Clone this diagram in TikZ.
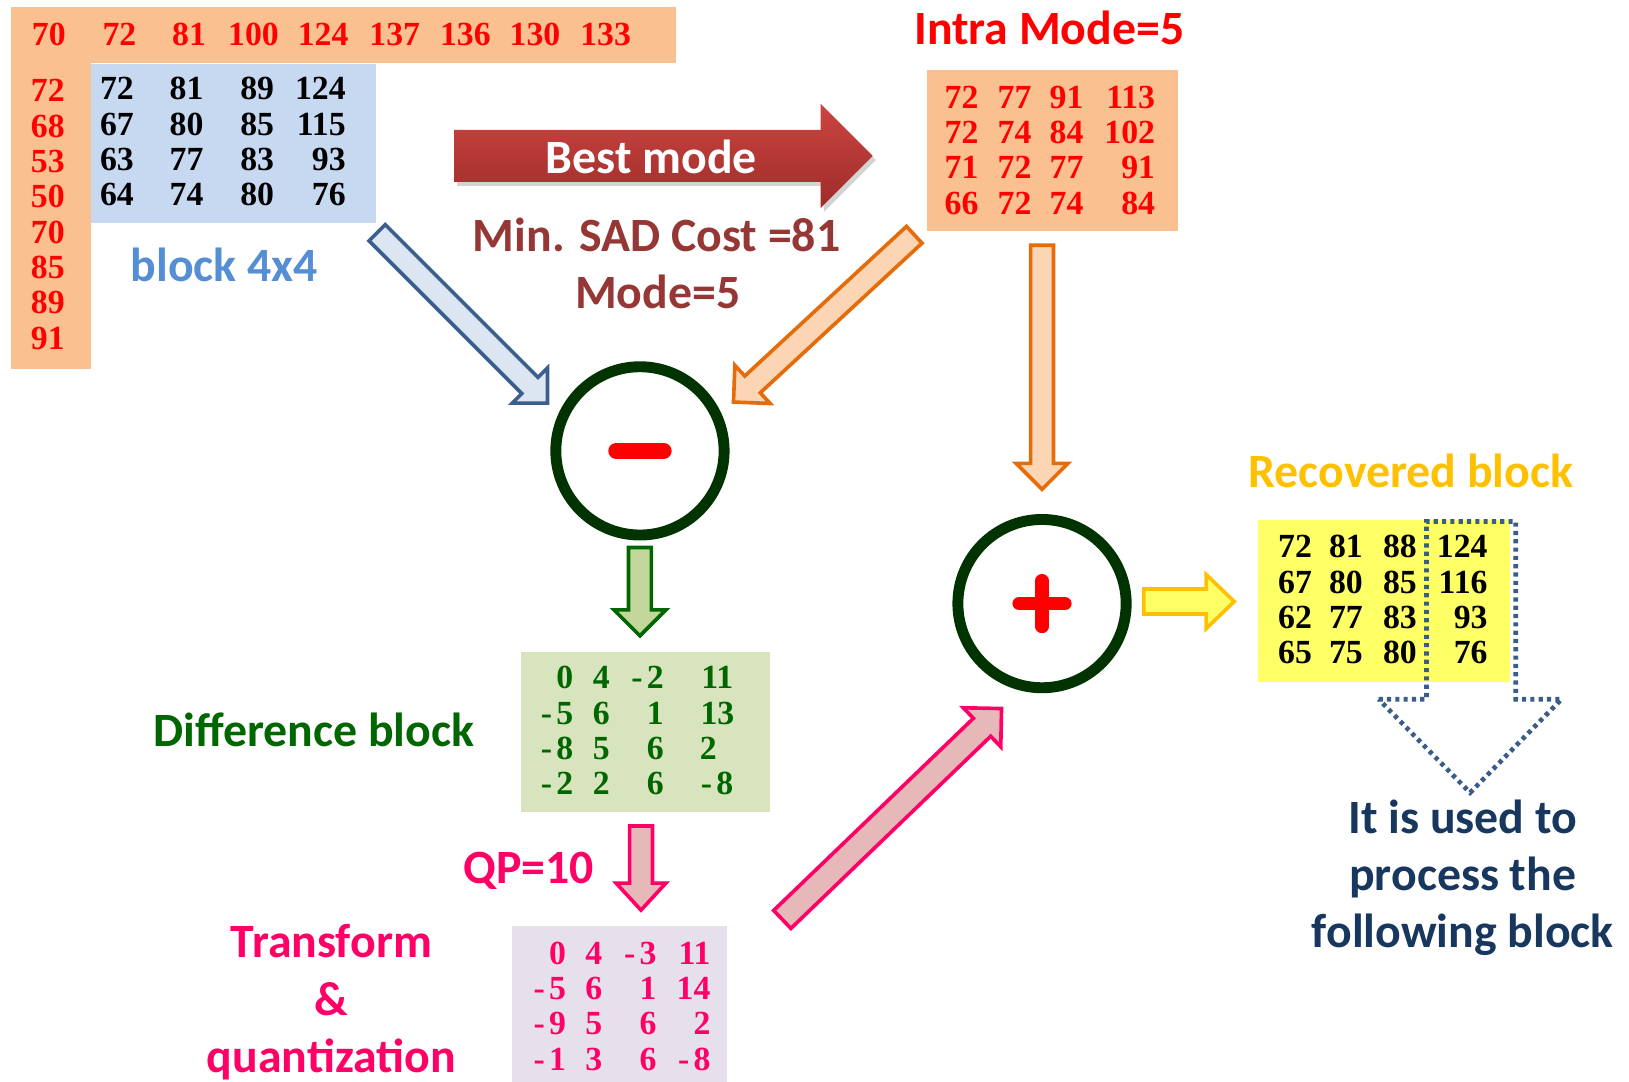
\documentclass[tikz,border=0pt]{standalone}
\usepackage{fontspec}
\setmainfont{Carlito}
\newfontfamily\numfam{Liberation Serif}
\usetikzlibrary{calc,shadows}
\definecolor{orfill}{HTML}{FAC090}
\definecolor{bluefill}{HTML}{C6D9F1}
\definecolor{redtxt}{HTML}{FF0000}
\definecolor{darkred}{HTML}{953735}
\definecolor{bluetxt}{HTML}{558ED5}
\definecolor{bluearrow}{HTML}{3B5E8C}
\definecolor{bluearrowfill}{HTML}{DCE6F2}
\definecolor{orarrow}{HTML}{E46C0A}
\definecolor{orarrowfill}{HTML}{FCD5B5}
\definecolor{circ}{HTML}{003300}
\definecolor{grarrow}{HTML}{006600}
\definecolor{grarrowfill}{HTML}{C3D69B}
\definecolor{difffill}{HTML}{D7E4BD}
\definecolor{grtxt}{HTML}{006600}
\definecolor{pinkc}{HTML}{FF0066}
\definecolor{pinkfill}{HTML}{E6B9B8}
\definecolor{tqfill}{HTML}{E6E0EC}
\definecolor{yel}{HTML}{FFFF66}
\definecolor{gold}{HTML}{FFC000}
\definecolor{navy}{HTML}{17375E}
\definecolor{dotblue}{HTML}{385D8A}
\definecolor{bmtop}{HTML}{CB4541}
\definecolor{bmbot}{HTML}{9E2C29}
\newcommand\mn[1]{-\kern4pt#1}
% block arrow: style, tail, tip, half shaft, half head, head length
\newcommand\barrow[6]{%
  \coordinate (#2-#3-b) at ($(#3)!#6!(#2)$);
  \draw[#1] ($(#2)!#4!90:(#3)$) -- ($(#2-#3-b)!#4!90:(#3)$) -- ($(#2-#3-b)!#5!90:(#3)$) -- (#3)
     -- ($(#2-#3-b)!#5!-90:(#3)$) -- ($(#2-#3-b)!#4!-90:(#3)$) -- ($(#2)!#4!-90:(#3)$) -- cycle;}
\begin{document}
\begin{tikzpicture}[x=1pt,y=-1pt,
  lab/.style={font=\fontsize{46}{55}\selectfont\bfseries, inner sep=0pt, anchor=base},
  num/.style={font=\numfam\bfseries\fontsize{32.5}{34}\selectfont, inner sep=0pt, anchor=base east},
  numc/.style={num, anchor=base},
  box/.style={inner sep=0pt, anchor=north west, draw=none},
  blk/.style={line width=3.5pt, line join=miter},
  ring/.style={circle, draw=circ, line width=10.5pt, minimum size=162pt, inner sep=0pt},
  sign/.style={draw=redtxt, line cap=round}]
\useasboundingbox (0,0) rectangle (1568,1041);

% ---- boxes
\node[box, fill=orfill, minimum width=640pt, minimum height=53pt] (toprow) at (10,7) {};
\node[box, fill=orfill, minimum width=77pt, minimum height=296pt] (leftcol) at (10,59) {};
\node[box, fill=bluefill, minimum width=275pt, minimum height=153pt] (cur) at (87,61) {};
\node[box, fill=orfill, minimum width=242pt, minimum height=155pt] (pred) at (892,67) {};
\node[box, fill=difffill, minimum width=240pt, minimum height=154pt] (diff) at (501,627) {};
\node[box, fill=tqfill, minimum width=207pt, minimum height=150pt] (tq) at (493,891) {};
\node[box, fill=yel, minimum width=242pt, minimum height=156pt] (rec) at (1211,500) {};

% ---- numbers
\foreach \v/\x in {70/47,72/115,81/182,100/244,124/311,137/380,136/448,130/515,133/583}
  \node[numc, redtxt] (top-\x) at (\x,44) {\v};
\foreach \v [count=\i] in {72,68,53,50,70,85,89,91}
  \node[numc, redtxt] (left-\i) at (46,64+34*\i) {\v};
\foreach \a/\b/\c/\d [count=\r] in {72/81/89/124,67/80/85/115,63/77/83/93,64/74/80/76}{
  \node[num, black] (cur-\r-1) at (129,62+34*\r) {\a};
  \node[num, black] (cur-\r-2) at (196,62+34*\r) {\b};
  \node[num, black] (cur-\r-3) at (264,62+34*\r) {\c};
  \node[num, black] (cur-\r-4) at (333,62+34*\r) {\d};}
\foreach \a/\b/\c/\d [count=\r] in {72/77/91/113,72/74/84/102,71/72/77/91,66/72/74/84}{
  \node[num, redtxt] (pred-\r-1) at (942,70+34*\r) {\a};
  \node[num, redtxt] (pred-\r-2) at (993,70+34*\r) {\b};
  \node[num, redtxt] (pred-\r-3) at (1043,70+34*\r) {\c};
  \node[num, redtxt] (pred-\r-4) at (1112,70+34*\r) {\d};}
\foreach \a/\b/\c/\d [count=\r] in {72/81/88/124,67/80/85/116,62/77/83/93,65/75/80/76}{
  \node[num, black] (rec-\r-1) at (1263,503+34*\r) {\a};
  \node[num, black] (rec-\r-2) at (1312,503+34*\r) {\b};
  \node[num, black] (rec-\r-3) at (1364,503+34*\r) {\c};
  \node[num, black] (rec-\r-4) at (1432,503+34*\r) {\d};}
\foreach \a/\b/\c/\d/\dx [count=\r] in {0/4/\mn{2}/11/706,\mn{5}/6/1/13/707,\mn{8}/5/6/2/690,\mn{2}/2/6/\mn{8}/706}{
  \node[num, grtxt] (diff-\r-1) at (552,629+34*\r) {\a};
  \node[num, grtxt] (diff-\r-2) at (587,629+34*\r) {\b};
  \node[num, grtxt] (diff-\r-3) at (639,629+34*\r) {\c};
  \node[num, grtxt] (diff-\r-4) at (\dx,629+34*\r) {\d};}
\foreach \a/\b/\c/\d [count=\r] in {0/4/\mn{3}/11,\mn{5}/6/1/14,\mn{9}/5/6/2,\mn{1}/3/6/\mn{8}}{
  \node[num, pinkc] (tq-\r-1) at (545,894+34*\r) {\a};
  \node[num, pinkc] (tq-\r-2) at (580,894+34*\r) {\b};
  \node[num, pinkc] (tq-\r-3) at (632,894+34*\r) {\c};
  \node[num, pinkc] (tq-\r-4) at (684,894+34*\r) {\d};}

% ---- best mode arrow
\path[top color=bmtop, bottom color=bmbot,
      drop shadow={shadow xshift=3pt, shadow yshift=-4pt, opacity=0.35}]
  (437,125) -- (790,125) -- (790,100) -- (840,150) -- (790,200) -- (790,175) -- (437,175) -- cycle;
\node[lab, white] (lbest) at (627,167) {Best mode};

% ---- labels
\node[lab, bluetxt] (lblock) at (216,271) {block 4x4};
\node[lab, darkred] (lsad) at (632,242) {Min. SAD Cost =81};
\node[lab, darkred] (lmode) at (633,297) {Mode=5};
\node[lab, redtxt] (lintra) at (1010,43) {Intra Mode=5};
\node[lab, grtxt] (ldiff) at (302,719) {Difference block};
\node[lab, pinkc] (lqp) at (509,850) {QP=10};
\node[lab, pinkc] (ltq1) at (319,922) {Transform};
\node[lab, pinkc] (ltq2) at (319,977) {\&};
\node[lab, pinkc] (ltq3) at (319,1032) {quantization};
\node[lab, gold] (lrec) at (1358,469) {Recovered block};
\node[lab, navy] (lused1) at (1408,802) {It is used to};
\node[lab, navy] (lused2) at (1408,857) {process the};
\node[lab, navy] (lused3) at (1408,912) {following block};

% ---- circles
\node[ring] (minus) at (616,434) {};
\draw[sign, line width=15pt] ($(minus.center)+(-23,0)$) -- ($(minus.center)+(23,0)$);
\node[ring] (plus) at (1003,581) {};
\draw[sign, line width=13pt] ($(plus.center)+(-22,0)$) -- ($(plus.center)+(22,0)$);
\draw[sign, line width=13pt] ($(plus.center)+(0,-22)$) -- ($(plus.center)+(0,22)$);

% ---- block arrows
\coordinate (bt) at (363,224); \coordinate (bp) at (527,388);
\barrow{blk, draw=bluearrow, fill=bluearrowfill}{bt}{bp}{11pt}{24pt}{24pt}
\coordinate (ot) at (880,226); \coordinate (op) at (706,387);
\barrow{blk, draw=orarrow, fill=orarrowfill}{ot}{op}{11pt}{25pt}{25pt}
\coordinate (vt) at (1003,236); \coordinate (vp) at (1003,471);
\barrow{blk, draw=orarrow, fill=orarrowfill}{vt}{vp}{11pt}{25pt}{25pt}
\coordinate (gt) at (616,527); \coordinate (gp) at (616,612);
\barrow{blk, draw=grarrow, fill=grarrowfill}{gt}{gp}{11pt}{25pt}{25pt}
\coordinate (pt) at (617,795); \coordinate (pp) at (617,876);
\barrow{blk, draw=pinkc, fill=pinkfill}{pt}{pp}{11pt}{24pt}{26pt}
\coordinate (qt) at (753,885); \coordinate (qp) at (964,682);
\barrow{blk, draw=pinkc, fill=pinkfill}{qt}{qp}{12pt}{26pt}{26pt}
\coordinate (yt) at (1101,579); \coordinate (yp) at (1188,579);
\barrow{blk, draw=gold, fill=yel}{yt}{yp}{12pt}{26pt}{27pt}

% ---- dotted arrow
\draw[dotblue, line width=4.5pt, dash pattern=on 4pt off 4pt]
  (1327,673) -- (1373,673) -- (1373,502) -- (1459,502) -- (1459,673) -- (1503,673) -- (1415,763) -- cycle;
\end{tikzpicture}
\end{document}
